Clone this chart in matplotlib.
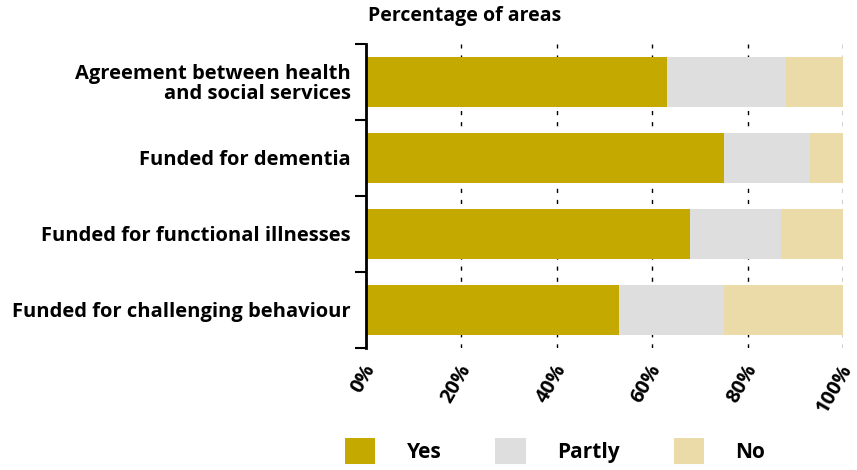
import numpy as np
import matplotlib.pyplot as plt
import matplotlib.transforms as mtransforms
from matplotlib.patches import Patch

plt.rcParams['font.family'] = ['Open Sans', 'DejaVu Sans']
plt.rcParams['font.weight'] = 'bold'

categories = ['Agreement between health\nand social services', 'Funded for dementia',
              'Funded for functional illnesses', 'Funded for challenging behaviour']
yes = [63, 75, 68, 53]
partly = [25, 18, 19, 22]
no = [12, 7, 13, 25]
series = ['Yes', 'Partly', 'No']
colors = ['#C4A900', '#DEDEDE', '#EADBA8']
xticks = [0, 20, 40, 60, 80, 100]

fig = plt.figure(figsize=(8.57, 4.70), dpi=100)
ax = fig.add_axes([366/857, 1-348/470, (843-366)/857, (348-44)/470])

y = np.arange(len(categories))
left = np.zeros(len(categories))
for vals, c in zip([yes, partly, no], colors):
    ax.barh(y, vals, left=left, height=0.67, color=c, zorder=2)
    left += np.array(vals)

ax.set_xlim(0, 100)
ax.set_ylim(len(categories) - 0.5, -0.5)
ax.set_xticks(xticks)
ax.set_xticklabels([f'{t}%' for t in xticks], rotation=60, ha='right',
                   rotation_mode='anchor', fontsize=14.5, fontweight='bold')
ax.tick_params(axis='x', length=0, pad=9)
shift = mtransforms.ScaledTranslation(-4/100, 0, fig.dpi_scale_trans)
for lab in ax.get_xticklabels():
    lab.set_transform(lab.get_transform() + shift)
ax.xaxis.grid(True, color='black', linestyle=(0, (3, 5)), linewidth=1, zorder=0)
ax.set_axisbelow(True)

ax.set_yticks(np.arange(len(categories) + 1) - 0.5)
ax.set_yticklabels([])
ax.set_yticks(y, minor=True)
ax.set_yticklabels(categories, minor=True, fontsize=14.5, fontweight='bold', ha='right',
                   linespacing=0.95)
ax.tick_params(axis='y', which='major', length=8, width=1.5, color='black')
ax.tick_params(axis='y', which='minor', length=0, pad=11)

for s in ['top', 'right', 'bottom']:
    ax.spines[s].set_visible(False)
ax.spines['left'].set_linewidth(2)

fig.text(368/857, 1-16/470, 'Percentage of areas', fontsize=14, fontweight='bold',
         ha='left', va='center')

handles = [Patch(facecolor=c, label=s) for s, c in zip(series, colors)]
fig.legend(handles=handles, loc='center left', bbox_to_anchor=(345/857, 1-451/470),
           ncol=3, frameon=False, fontsize=15, handlelength=1.45, handleheight=1.5,
           handletextpad=1.5, columnspacing=2.6, borderpad=0, borderaxespad=0)

plt.savefig('out.png', dpi=100)
